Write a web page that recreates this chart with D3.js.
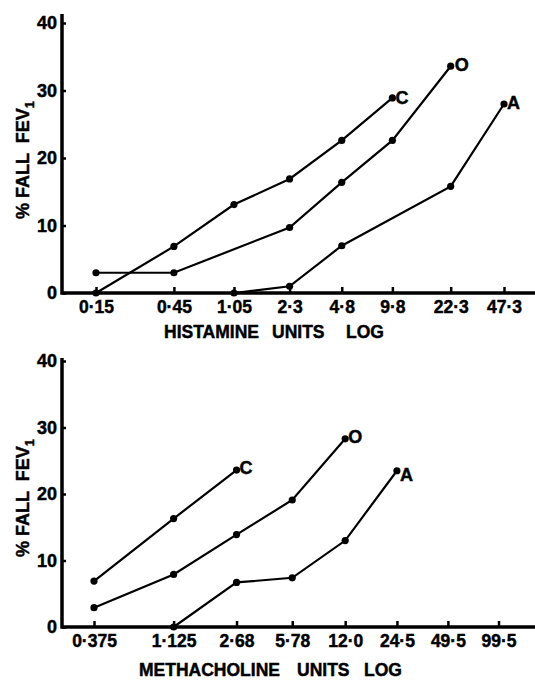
<!DOCTYPE html>
<html>
<head>
<meta charset="utf-8">
<script src="https://cdn.jsdelivr.net/npm/d3@7"></script>
<style>
  body { margin: 0; background: #fff; }
  svg { display: block; font-family: "Liberation Sans", Arial, sans-serif; font-weight: bold; }
  svg text { stroke: #000; stroke-width: 0.45; }
</style>
</head>
<body>
<svg id="graph" width="535" height="682"></svg>
<script>
// histamine panel
const histDoses = [0.15, 0.45, 1.05, 2.3, 4.8, 9.8, 22.3, 47.3];
const histTickLabels = ["0·15", "0·45", "1·05", "2·3", "4·8", "9·8", "22·3", "47·3"];
const histC = [[0.15, 0], [0.45, 6.9], [1.05, 13.1], [2.3, 16.9], [4.8, 22.6], [9.8, 28.9]];
const histO = [[0.15, 3], [0.45, 3], [2.3, 9.7], [4.8, 16.4], [9.8, 22.6], [22.3, 33.6]];
const histA = [[1.05, 0], [2.3, 1.0], [4.8, 7.0], [22.3, 15.8], [47.3, 28.0]];

// methacholine panel
const methDoses = [0.375, 1.125, 2.68, 5.78, 12.0, 24.5, 49.5, 99.5];
const methTickLabels = ["0·375", "1·125", "2·68", "5·78", "12·0", "24·5", "49·5", "99·5"];
const methC = [[0.375, 6.9], [1.125, 16.3], [2.68, 23.6]];
const methO = [[0.375, 2.9], [1.125, 7.9], [2.68, 13.9], [5.78, 19.1], [12.0, 28.3]];
const methA = [[1.125, 0], [2.68, 6.7], [5.78, 7.4], [12.0, 13.0], [24.5, 23.5]];

const yTicks = [0, 10, 20, 30, 40];
const seriesNames = ["C", "O", "A"];

const svg = d3.select("#graph");

function panel(opts) {
  const x = d3.scaleLog().domain(opts.xDomain).range(opts.xRange);
  const y = d3.scaleLinear().domain([0, 40]).range(opts.yRange);
  const g = svg.append("g");
  const y0 = y(0);

  // y axis
  g.append("g")
    .attr("transform", `translate(62,0)`)
    .call(d3.axisLeft(y).tickValues(yTicks).tickSize(-4).tickPadding(5))
    .call((a) => a.select(".domain").remove())
    .call((a) => a.selectAll("line").attr("stroke-width", 2.5))
    .call((a) =>
      a.selectAll("text")
        .attr("font-size", 18)
        .attr("font-family", null)
        .attr("fill", "#000")
    );

  // x axis
  g.append("g")
    .attr("transform", `translate(0,${y0})`)
    .call(
      d3.axisBottom(x)
        .tickValues(opts.doses)
        .tickFormat((d, i) => opts.labels[i])
        .tickSize(-6)
        .tickPadding(8)
    )
    .call((a) => a.select(".domain").remove())
    .call((a) => a.selectAll("line").attr("stroke-width", 2.5))
    .call((a) =>
      a.selectAll("text")
        .attr("font-size", 17.5)
        .attr("font-family", null)
        .attr("fill", "#000")
    );

  // heavy axis lines
  g.append("path")
    .attr("d", `M62,${opts.yTop}V${y0}H535`)
    .attr("fill", "none")
    .attr("stroke", "#000")
    .attr("stroke-width", 3.5);

  const line = d3.line()
    .x((d) => x(d[0]))
    .y((d) => y(d[1]));

  opts.series.forEach((s, i) => {
    g.append("path")
      .datum(s)
      .attr("d", line)
      .attr("fill", "none")
      .attr("stroke", "#000")
      .attr("stroke-width", 2.2);
    g.selectAll(null)
      .data(s)
      .join("circle")
      .attr("cx", (d) => x(d[0]))
      .attr("cy", (d) => y(d[1]))
      .attr("r", 3.6)
      .attr("fill", "#000");
    const last = s[s.length - 1];
    const off = opts.labelOffsets[i];
    g.append("text")
      .attr("x", x(last[0]) + off[0])
      .attr("y", y(last[1]) + off[1])
      .attr("dy", "0.36em")
      .attr("font-size", 18)
      .text(seriesNames[i]);
  });

  // y label
  g.append("text")
    .attr("transform", `translate(29,${opts.yLabelMid}) rotate(-90)`)
    .attr("text-anchor", "middle")
    .attr("font-size", 18)
    .style("white-space", "pre")
    .call((t) => t.append("tspan").text("% FALL  FEV"))
    .call((t) =>
      t.append("tspan").text("1").attr("font-size", 13).attr("dy", 5)
    );

  // x title
  g.selectAll(null)
    .data(opts.title)
    .join("text")
    .attr("x", (d) => d[1])
    .attr("y", opts.titleY)
    .attr("font-size", 17.5)
    .text((d) => d[0]);
}

panel({
  xDomain: [0.15, 47.3],
  xRange: [96, 504],
  yRange: [293, 23],
  yTop: 14,
  doses: histDoses,
  labels: histTickLabels,
  series: [histC, histO, histA],
  labelOffsets: [[3, 0], [4, -2], [3, -1]],
  yLabelMid: 160,
  title: [["HISTAMINE", 164], ["UNITS", 272], ["LOG", 346]],
  titleY: 338
});

panel({
  xDomain: [0.375, 99.5],
  xRange: [94, 498.5],
  yRange: [627, 361],
  yTop: 358,
  doses: methDoses,
  labels: methTickLabels,
  series: [methC, methO, methA],
  labelOffsets: [[3, -2.5], [3, -2], [3, 4]],
  yLabelMid: 498,
  title: [["METHACHOLINE", 139], ["UNITS", 297], ["LOG", 364]],
  titleY: 676
});
</script>
</body>
</html>
